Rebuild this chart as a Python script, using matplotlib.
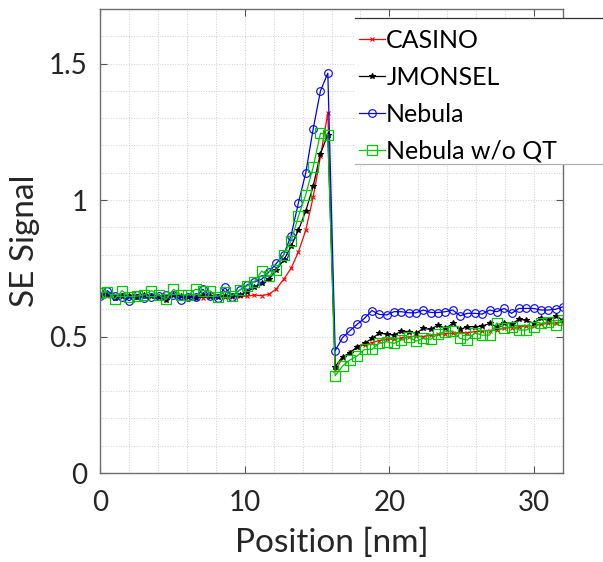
import numpy as np
import matplotlib.pyplot as plt
from matplotlib.patches import Rectangle
from matplotlib.lines import Line2D
from matplotlib.ticker import MultipleLocator

plt.rcParams['font.family'] = ['Lato', 'DejaVu Sans']

# line scan positions (nm), 64 samples over 0..32
position = np.linspace(0, 32, 64)

casino = [0.650, 0.648, 0.652, 0.645, 0.650, 0.652, 0.648, 0.650, 0.645, 0.648,
          0.652, 0.650, 0.645, 0.648, 0.642, 0.645, 0.648, 0.643, 0.645, 0.647,
          0.648, 0.652, 0.650, 0.655, 0.675, 0.710, 0.750, 0.810, 0.890, 1.010,
          1.160, 1.320, 0.377, 0.420, 0.444, 0.460, 0.470, 0.478, 0.485, 0.490,
          0.490, 0.495, 0.498, 0.502, 0.500, 0.505, 0.508, 0.510, 0.512, 0.515,
          0.513, 0.518, 0.520, 0.522, 0.525, 0.530, 0.533, 0.535, 0.538, 0.540,
          0.545, 0.548, 0.550, 0.553]

jmonsel = [0.652, 0.655, 0.640, 0.648, 0.650, 0.645, 0.652, 0.648, 0.645, 0.635,
           0.652, 0.648, 0.646, 0.640, 0.652, 0.648, 0.645, 0.648, 0.650, 0.652,
           0.664, 0.680, 0.695, 0.710, 0.745, 0.780, 0.830, 0.890, 0.960, 1.050,
           1.170, 1.240, 0.390, 0.426, 0.438, 0.463, 0.475, 0.493, 0.512, 0.509,
           0.505, 0.520, 0.518, 0.512, 0.530, 0.526, 0.542, 0.530, 0.548, 0.526,
           0.536, 0.536, 0.538, 0.548, 0.536, 0.551, 0.546, 0.563, 0.560, 0.548,
           0.567, 0.560, 0.575, 0.560]

nebula = [0.648, 0.668, 0.648, 0.646, 0.631, 0.652, 0.640, 0.646, 0.648, 0.652,
          0.652, 0.634, 0.646, 0.643, 0.673, 0.648, 0.640, 0.680, 0.646, 0.670,
          0.689, 0.700, 0.710, 0.737, 0.768, 0.800, 0.870, 0.990, 1.100, 1.260,
          1.400, 1.465, 0.448, 0.496, 0.521, 0.545, 0.567, 0.595, 0.581, 0.579,
          0.591, 0.591, 0.587, 0.587, 0.597, 0.588, 0.588, 0.591, 0.597, 0.576,
          0.585, 0.585, 0.582, 0.597, 0.591, 0.603, 0.585, 0.603, 0.603, 0.603,
          0.597, 0.597, 0.600, 0.609]

nebula_noqt = [0.661, 0.664, 0.637, 0.668, 0.646, 0.648, 0.652, 0.668, 0.652, 0.636,
               0.673, 0.652, 0.652, 0.673, 0.668, 0.667, 0.646, 0.664, 0.650, 0.670,
               0.685, 0.700, 0.740, 0.720, 0.745, 0.800, 0.850, 0.940, 1.020, 1.120,
               1.245, 1.240, 0.356, 0.392, 0.414, 0.429, 0.453, 0.453, 0.475, 0.481,
               0.475, 0.487, 0.499, 0.483, 0.493, 0.490, 0.510, 0.518, 0.520, 0.493,
               0.487, 0.514, 0.505, 0.505, 0.550, 0.530, 0.536, 0.524, 0.524, 0.536,
               0.548, 0.554, 0.542, 0.560]

labels = ['CASINO', 'JMONSEL', 'Nebula', 'Nebula w/o QT']

W, H = 603, 562
fig = plt.figure(figsize=(W / 100, H / 100), dpi=100)
ax = fig.add_axes([100 / W, 89 / H, 463 / W, 464 / H])

ax.plot(position, casino, color='#ff0000', lw=0.9, marker='x', ms=3.5, mew=0.8)
ax.plot(position, jmonsel, color='black', lw=0.9, marker='*', ms=4, mew=0.8)
ax.plot(position, nebula, color='#0000ff', lw=0.9, marker='o', ms=5.5,
        mfc='none', mew=0.8)
ax.plot(position, nebula_noqt, color='#00c800', lw=0.9, marker='s', ms=7,
        mfc='none', mew=0.9)

ax.set_xlim(0, 32)
ax.set_ylim(0, 1.7)
ax.set_xticks([0, 10, 20, 30])
ax.set_yticks([0, 0.5, 1, 1.5])
ax.set_yticklabels(['0', '0.5', '1', '1.5'])
ax.xaxis.set_minor_locator(MultipleLocator(2))
ax.yaxis.set_minor_locator(MultipleLocator(0.1))
ax.grid(which='both', color='#cfcfcf', ls=':', lw=0.7)
ax.set_axisbelow(True)

for s in ax.spines.values():
    s.set_color('#6e6e6e')
    s.set_linewidth(1.0)
ax.tick_params(which='major', direction='in', length=5, width=0.8,
               color='#555555', top=True, right=True,
               labelsize=20, labelcolor='#262626')
ax.tick_params(axis='x', which='major', pad=12)
ax.tick_params(axis='y', which='major', pad=9)
ax.tick_params(which='minor', length=0, top=True, right=True)

ax.set_xlabel('Position [nm]', fontsize=24, color='#262626', labelpad=9)
ax.set_ylabel('SE Signal', fontsize=24, color='#262626', labelpad=6)

# legend backdrop, running past the right edge of the figure
ax.add_patch(Rectangle((355 / W, 1 - 164 / H), 300 / W, 146 / H,
                       transform=fig.transFigure, facecolor='white',
                       edgecolor='none', clip_on=False, zorder=4))
ax.add_line(Line2D([355 / W, 1.1], [1 - 18 / H] * 2, transform=fig.transFigure,
                   color='#333333', lw=0.9, clip_on=False, zorder=4.5))
ax.add_line(Line2D([355 / W, 1.1], [1 - 164 / H] * 2, transform=fig.transFigure,
                   color='#b0b0b0', lw=0.9, clip_on=False, zorder=4.5))

leg = ax.legend(ax.get_lines(), labels, loc='upper left',
                bbox_to_anchor=(350 / W, 1 - 20 / H),
                bbox_transform=fig.transFigure, frameon=False,
                fontsize=18, handlelength=1.05, handletextpad=0.05,
                labelspacing=0.56, borderpad=0.35, borderaxespad=0)
leg.set_zorder(5)

fig.savefig('out.png', dpi=100)
